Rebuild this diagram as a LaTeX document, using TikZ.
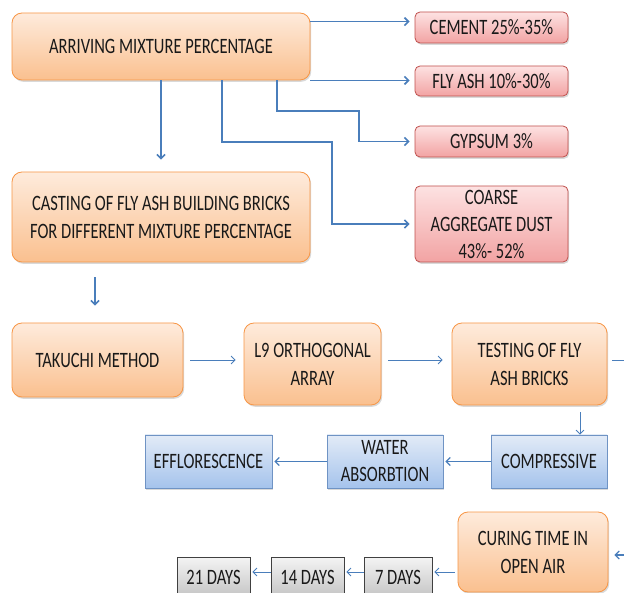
\documentclass[tikz,border=0pt]{standalone}
\usepackage{fontspec}
\setmainfont{Carlito}
\usetikzlibrary{arrows.meta,shadows}
\newcommand\StretchTxt[1]{\scalebox{1}[1.33]{#1}}
\definecolor{orBd}{HTML}{F79646}
\definecolor{orTop}{HTML}{FEEBDC}
\definecolor{orBot}{HTML}{FAC08F}
\definecolor{rdBd}{HTML}{C0504D}
\definecolor{rdTop}{HTML}{FDE2E2}
\definecolor{rdBot}{HTML}{F2A3A3}
\definecolor{blBd}{HTML}{6F93C4}
\definecolor{blTop}{HTML}{E2EBF7}
\definecolor{blBot}{HTML}{A5C3EC}
\definecolor{gyBd}{HTML}{404040}
\definecolor{gyTop}{HTML}{F4F4F4}
\definecolor{gyBot}{HTML}{C4C4C4}
\definecolor{arC}{HTML}{4A7EBB}
\begin{document}
\begin{tikzpicture}[x=1pt,y=-1pt,
  base/.style={inner sep=0pt, align=center, font=\fontsize{16.5}{28}\selectfont, text=black!90,
    drop shadow={shadow xshift=1.2pt, shadow yshift=-1.8pt, opacity=0.3}},
  obox/.style={base, rounded corners=10pt, draw=orBd, line width=0.8pt, top color=orTop, bottom color=orBot},
  rbox/.style={base, rounded corners=5pt, draw=rdBd, line width=0.8pt, top color=rdTop, bottom color=rdBot},
  bbox/.style={base, draw=blBd, line width=0.8pt, top color=blTop, bottom color=blBot},
  gbox/.style={base, draw=gyBd, line width=0.8pt, top color=gyTop, bottom color=gyBot},
  arr/.style={draw=arC, line width=1.6pt, -{Straight Barb[length=4pt,width=8pt]}},
  arrm/.style={arr, line width=1.2pt},
  arrt/.style={arr, line width=0.8pt}
]
\useasboundingbox (0,0) rectangle (624,593);

\node[obox, minimum width=298pt, minimum height=67pt] (ami) at (161,46.5) {\StretchTxt{ARRIVING MIXTURE PERCENTAGE}};
\node[rbox, minimum width=153pt, minimum height=31pt] (cement) at (491.5,27.5) {\StretchTxt{CEMENT 25\%-35\%}};
\node[rbox, minimum width=153pt, minimum height=30pt] (flyash) at (491.5,81) {\StretchTxt{FLY ASH 10\%-30\%}};
\node[rbox, minimum width=153pt, minimum height=31pt] (gypsum) at (491.5,141.5) {\StretchTxt{GYPSUM 3\%}};
\node[rbox, minimum width=153pt, minimum height=76pt, font=\fontsize{16.5}{27}\selectfont] (coarse) at (491.5,224) {\StretchTxt{COARSE}\\\StretchTxt{AGGREGATE DUST}\\\StretchTxt{43\%- 52\%}};
\node[obox, minimum width=298pt, minimum height=90pt] (casting) at (161,217) {\StretchTxt{CASTING OF FLY ASH BUILDING BRICKS}\\\StretchTxt{FOR DIFFERENT MIXTURE PERCENTAGE}};
\node[obox, minimum width=171pt, minimum height=74pt] (takuchi) at (97.5,360) {\StretchTxt{TAKUCHI METHOD}};
\node[obox, minimum width=137pt, minimum height=82pt] (l9) at (312.5,364) {\StretchTxt{L9 ORTHOGONAL}\\\StretchTxt{ARRAY}};
\node[obox, minimum width=155pt, minimum height=82pt] (testing) at (529.5,364) {\StretchTxt{TESTING OF FLY}\\\StretchTxt{ASH BRICKS}};
\node[bbox, minimum width=116pt, minimum height=53pt] (comp) at (549,461.5) {\StretchTxt{COMPRESSIVE}};
\node[bbox, minimum width=116pt, minimum height=53pt, font=\fontsize{16.5}{27}\selectfont] (water) at (385,461.5) {\StretchTxt{WATER}\\\StretchTxt{ABSORBTION}};
\node[bbox, minimum width=127pt, minimum height=53pt] (eff) at (208.5,461.5) {\StretchTxt{EFFLORESCENCE}};
\node[obox, minimum width=150pt, minimum height=80pt] (curing) at (533,552) {\StretchTxt{CURING TIME IN}\\\StretchTxt{OPEN AIR}};
\node[gbox, minimum width=68pt, minimum height=40pt] (seven) at (398,577) {\StretchTxt{7 DAYS}};
\node[gbox, minimum width=73pt, minimum height=40pt] (fourteen) at (307.5,577) {\StretchTxt{14 DAYS}};
\node[gbox, minimum width=73pt, minimum height=40pt] (twentyone) at (213.5,577) {\StretchTxt{21 DAYS}};

% top connectors
\draw[arr, shorten >=5pt] ([yshift=-9pt]ami.north east) -- ([yshift=-9pt]ami.north east -| cement.west);
\draw[arr, shorten >=5pt] (ami.south east) -- (ami.south east -| flyash.west);
\draw[arr, shorten >=5pt] ([xshift=116pt]ami.south) |- (359,111) |- (gypsum.west);
\draw[arr, shorten >=5pt] ([xshift=61pt]ami.south) |- (332,142) |- (coarse.west);
\draw[arr, shorten >=12pt] (ami.south) -- (casting.north);
\draw[arr, shorten <=15pt, shorten >=17pt] ([xshift=-2.5pt]casting.south -| takuchi.north) -- ([xshift=-2.5pt]takuchi.north);

% middle row
\draw[arrt, shorten <=7pt, shorten >=8pt] (takuchi.east) -- (takuchi.east -| l9.west);
\draw[arrt, shorten <=7pt, shorten >=9pt] (takuchi.east -| l9.east) -- (takuchi.east -| testing.west);
\coordinate (offA) at (630,360);
\draw[draw=arC, line width=0.8pt, shorten <=5pt] (takuchi.east -| testing.east) -- (offA);
\path ([xshift=31pt]comp.north) coordinate (c1);
\draw[arrt, shorten <=7pt] (testing.south -| c1) -- (c1);

% blue row
\draw[arrm, shorten >=2pt] (comp.west) -- (water.east);
\draw[arrm, shorten >=2pt] (water.west) -- (eff.east);

% bottom row
\coordinate (offB) at (630,555);
\draw[arrm, shorten >=6pt] (offB) -- (offB -| curing.east);
\draw[arrt, shorten <=3pt, shorten >=2pt] ([yshift=5pt]seven.east -| curing.west) -- ([yshift=5pt]seven.east);
\draw[arrt, shorten >=2pt] ([yshift=5pt]seven.west) -- ([yshift=5pt]fourteen.east);
\draw[arrt, shorten >=2pt] ([yshift=5pt]fourteen.west) -- ([yshift=5pt]twentyone.east);
\end{tikzpicture}
\end{document}
